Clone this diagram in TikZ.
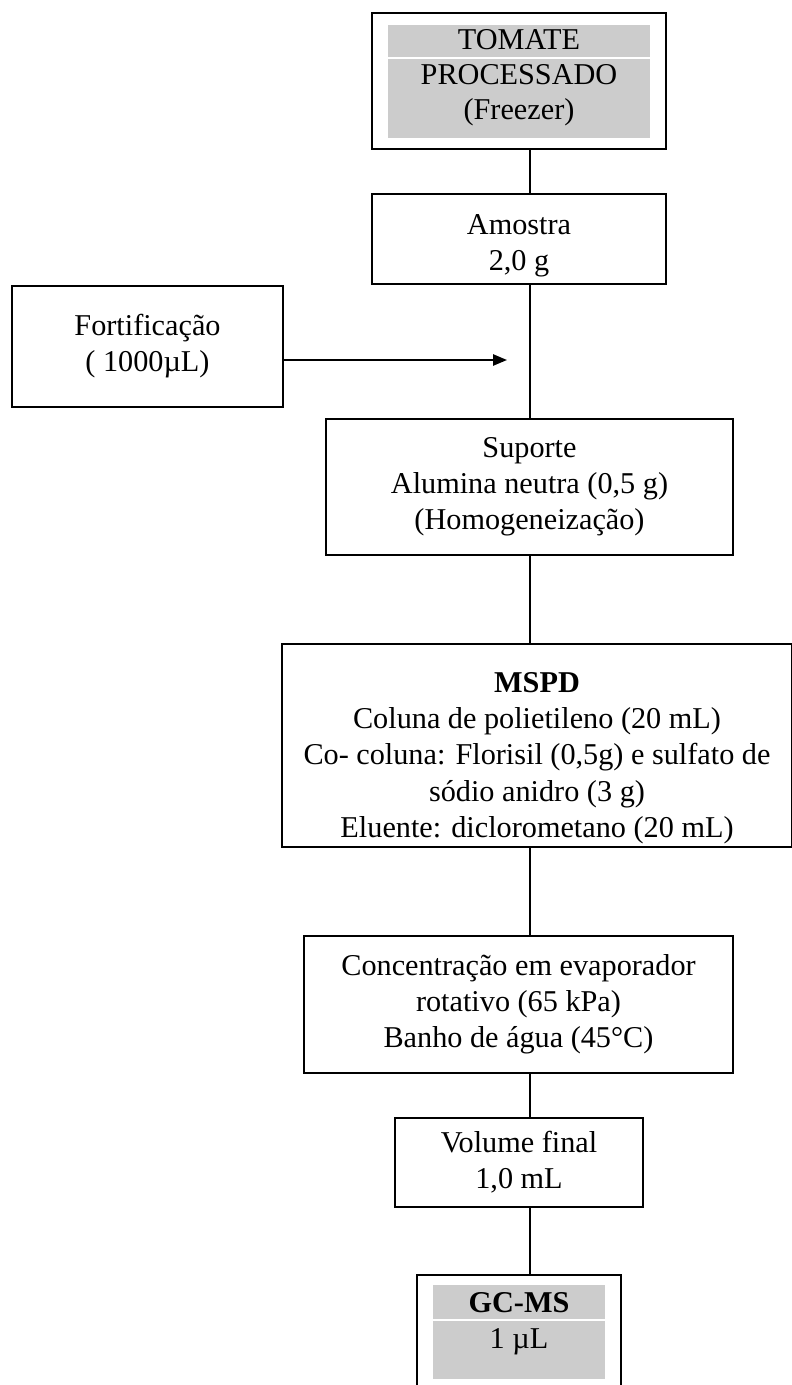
\documentclass[tikz,border=0pt]{standalone}
\usepackage{fontspec}
\setmainfont{Liberation Serif}
\usetikzlibrary{arrows.meta,positioning}
\newcommand{\pxu}{0.3968pt}

\begin{document}
\begin{tikzpicture}[x=\pxu,y=-\pxu,
    caixa/.style={draw,line width=0.8pt,align=center,inner sep=0pt,
      font=\fontsize{12}{14.3}\selectfont},
    moldura/.style={draw,line width=1pt,inner sep=0pt},
    cinza/.style={fill=black!20,inner sep=0pt},
    rotulo/.style={align=center,inner sep=0pt,font=\fontsize{12}{13.9}\selectfont},
    fluxo/.style={line width=0.8pt}]
    \useasboundingbox (0,0) rectangle (791,1385);
    \coordinate (eixo) at (530,0);
    % Tomate processado, guardado no freezer
    \node[moldura,minimum width=294*\pxu,minimum height=136*\pxu] (tomate) at (519,81) {};
    \node[cinza,minimum width=262*\pxu,minimum height=113*\pxu] (tomatefundo) at (519,81.5) {};
    \coordinate (corteT) at (0,58);
    \draw[white,line width=0.5pt] (tomatefundo.west |- corteT) -- (tomatefundo.east |- corteT);
    \node[rotulo] (tomatetxt) at (519,78) {TOMATE\\PROCESSADO\\(Freezer)};
    % Amostra e fortificação
    \node[caixa,minimum width=294*\pxu,minimum height=90*\pxu] (amostra) at (519,239) {\rule{0pt}{13pt}Amostra\\2,0 g};
    \node[caixa,minimum width=271*\pxu,minimum height=121*\pxu] (fortif) at (147.5,346.5) {Fortificação\\( 1000µL)};
    \coordinate (entrada) at (507,360);
    \draw[fluxo,-{Triangle[length=5.5pt,width=4.4pt]}] (fortif.east |- entrada) -- (entrada);
    % Suporte e MSPD
    \node[caixa,minimum width=407*\pxu,minimum height=136*\pxu] (suporte) at (529.5,487)
      {Suporte\\Alumina neutra (0,5 g)\\(Homogeneização)};
    \node[caixa,minimum width=510*\pxu,minimum height=203*\pxu] (mspd) at (537,745.5)
      {\rule{0pt}{18pt}\textbf{MSPD}\\Coluna de polietileno (20 mL)\\Co- coluna: Florisil (0,5g) e sulfato de\\sódio anidro (3 g)\\Eluente: diclorometano (20 mL)};
    % Concentração e volume final
    \node[caixa,minimum width=429*\pxu,minimum height=137*\pxu] (conc) at (518.5,1004.5)
      {Concentração em evaporador\\rotativo (65 kPa)\\Banho de água (45°C)};
    \node[caixa,minimum width=248*\pxu,minimum height=89*\pxu] (volume) at (519,1162.5) {Volume final\\1,0 mL};
    % Injeção no GC-MS
    \node[moldura,minimum width=204*\pxu,minimum height=122*\pxu] (gcms) at (519,1336) {};
    \node[cinza,minimum width=172*\pxu,minimum height=94*\pxu] (gcmsfundo) at (519,1332) {};
    \coordinate (corteG) at (0,1320);
    \draw[white,line width=0.5pt] (gcmsfundo.west |- corteG) -- (gcmsfundo.east |- corteG);
    \node[rotulo] (gcmsnome) at (519,1303) {\textbf{GC-MS}};
    \node[rotulo] (gcmsvol) at (519,1342) {1 µL};
    % Linhas do fluxo
    \draw[fluxo] (tomate.south -| eixo) -- (amostra.north -| eixo);
    \draw[fluxo] (amostra.south -| eixo) -- (suporte.north -| eixo);
    \draw[fluxo] (suporte.south -| eixo) -- (mspd.north -| eixo);
    \draw[fluxo] (mspd.south -| eixo) -- (conc.north -| eixo);
    \draw[fluxo] (conc.south -| eixo) -- (volume.north -| eixo);
    \draw[fluxo] (volume.south -| eixo) -- (gcms.north -| eixo);
\end{tikzpicture}
\end{document}
